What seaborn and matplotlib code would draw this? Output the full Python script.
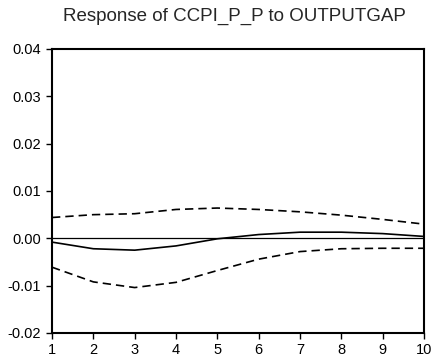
import numpy as np
import pandas as pd
import seaborn as sns
import matplotlib.pyplot as plt

periods = [1, 2, 3, 4, 5, 6, 7, 8, 9, 10]
response = [-0.0008, -0.0022, -0.0025, -0.0016, -0.0001, 0.0008, 0.0013, 0.0013, 0.0010, 0.0004]
upper = [0.0044, 0.0050, 0.0052, 0.0061, 0.0064, 0.0061, 0.0056, 0.0049, 0.0040, 0.0030]
lower = [-0.0061, -0.0092, -0.0104, -0.0093, -0.0068, -0.0044, -0.0028, -0.0022, -0.0021, -0.0021]

df = pd.DataFrame({"period": periods, "response": response, "upper": upper, "lower": lower})

sns.set_style("white")
plt.rcParams['font.family'] = ['Liberation Sans', 'DejaVu Sans']

fig = plt.figure(figsize=(4.33, 3.61), dpi=100)
ax = fig.add_axes([52 / 433, 1 - 333 / 361, 372 / 433, 284 / 361])

ax.axhline(0, color="black", lw=0.9)
sns.lineplot(data=df, x="period", y="response", color="black", lw=1.2, ax=ax)
sns.lineplot(data=df, x="period", y="upper", color="black", lw=1.2, ax=ax)
sns.lineplot(data=df, x="period", y="lower", color="black", lw=1.2, ax=ax)
ax.lines[2].set_linestyle((0, (5, 3)))
ax.lines[3].set_linestyle((0, (5, 3)))

ax.set_xlim(1, 10)
ax.set_ylim(-0.02, 0.04)
ax.set_xticks(periods)
ax.set_yticks([-0.02, -0.01, 0.0, 0.01, 0.02, 0.03, 0.04])
ax.set_yticklabels(["-0.02", "-0.01", "0.00", "0.01", "0.02", "0.03", "0.04"])
ax.set_xlabel("")
ax.set_ylabel("")
ax.tick_params(axis="both", direction="out", length=4, width=1, labelsize=10.5,
               left=True, bottom=True, colors="black")
ax.tick_params(axis="y", pad=4)
ax.tick_params(axis="x", pad=3)
for s in ax.spines.values():
    s.set_color("black")
    s.set_linewidth(1.5)
ax.set_title("Response of CCPI_P_P to OUTPUTGAP", fontsize=13.5, pad=20, x=0.49)

fig.savefig("out.png", dpi=100)
